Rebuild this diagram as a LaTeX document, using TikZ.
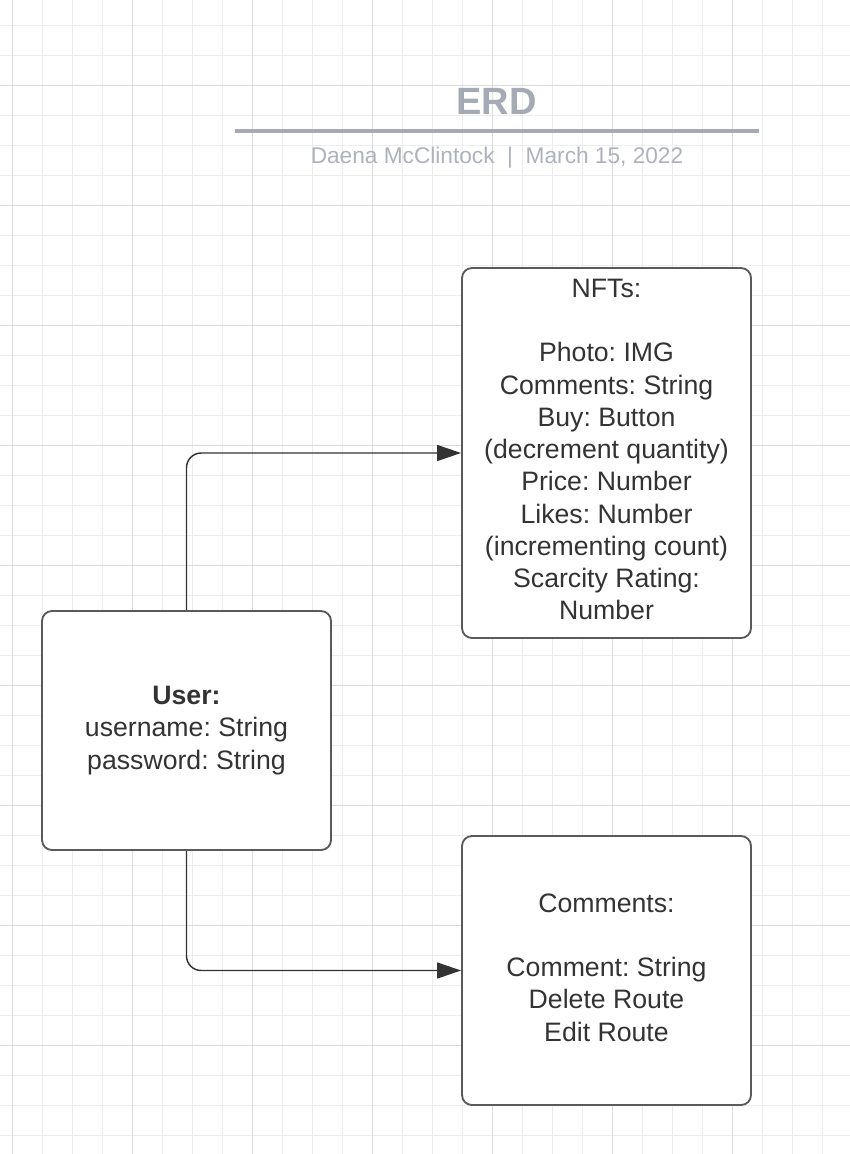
\documentclass[tikz,border=0pt]{standalone}
\usepackage{fontspec}
\setmainfont{Liberation Sans}
\frenchspacing
\usetikzlibrary{arrows.meta}
\definecolor{gridminor}{HTML}{EDEDED}
\definecolor{gridmajor}{HTML}{DCDCDC}
\definecolor{titlegray}{HTML}{A5AAB4}
\definecolor{subgray}{HTML}{AEB2BB}
\definecolor{inkdark}{HTML}{333333}
\definecolor{boxline}{HTML}{5A5A5A}
\tikzset{
  entity/.style={draw=boxline, line width=1.4pt, fill=white, rounded corners=7.5pt,
    inner sep=0pt, minimum width=216.75pt},
  entitytext/.style={text=inkdark, align=center, inner sep=0pt,
    font=\fontsize{20pt}{24.2pt}\selectfont},
  conn/.style={draw=inkdark, line width=1.1pt, rounded corners=11pt,
    -{Triangle[length=18pt,width=12pt]}},
}
\begin{document}
\begin{tikzpicture}[x=0.75pt,y=-0.75pt]
\useasboundingbox (0,0) rectangle (850,1154);
\fill[white] (0,0) rectangle (850,1154);
% grid
\foreach \gx in {12,42,...,842} \draw[gridminor, line width=0.75pt] (\gx,0) -- (\gx,1154);
\foreach \gy in {25,55,...,1145} \draw[gridminor, line width=0.75pt] (0,\gy) -- (850,\gy);
\foreach \gx in {12,132,...,732} \draw[gridmajor, line width=0.75pt] (\gx,0) -- (\gx,1154);
\foreach \gy in {85,205,...,1045} \draw[gridmajor, line width=0.75pt] (0,\gy) -- (850,\gy);
% title
\node[text=titlegray, font=\bfseries\fontsize{28.5pt}{34pt}\selectfont] (title) at (496.5,101) {ERD};
\coordinate (ruleL) at (235,131);
\coordinate (ruleR) at (759,131);
\draw[titlegray, line width=2.3pt] (ruleL) -- (ruleR);
\node[text=subgray, font=\fontsize{17pt}{20pt}\selectfont] (subtitle) at (497,157.5) {Daena McClintock\ \ |\ \ March 15, 2022};
% entities
\node[entity, minimum height=277.5pt] (nfts) at (606.5,453) {};
\node[entitytext] (nftstext) at (606.5,449.5)
  {NFTs:\\[24.2pt]Photo: IMG\\Comments: String\\Buy: Button\\(decrement quantity)\\Price: Number\\Likes: Number\\(incrementing count)\\Scarcity Rating:\\Number};
\node[entity, minimum height=179.25pt] (user) at (186.5,730.5) {};
\node[entitytext] (usertext) at (186.5,730.5)
  {\textbf{User:}\\username: String\\password: String};
\node[entity, minimum height=201.75pt] (comments) at (606.5,970.5) {};
\node[entitytext] (commentstext) at (606.5,967.5)
  {Comments:\\[24.2pt]Comment: String\\Delete Route\\Edit Route};
% connectors
\draw[conn] (user.north) |- (nfts.west);
\draw[conn] (user.south) |- (comments.west);
\end{tikzpicture}
\end{document}
